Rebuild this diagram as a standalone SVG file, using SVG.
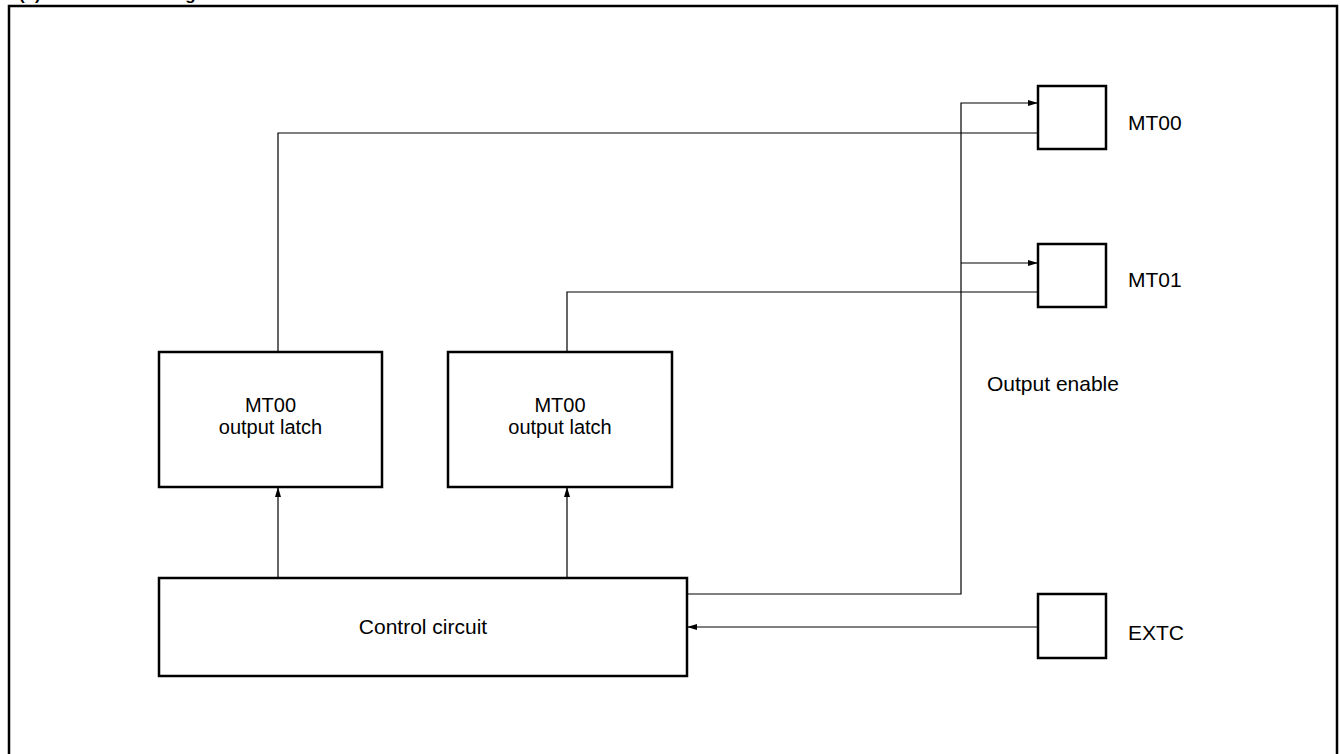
<svg xmlns="http://www.w3.org/2000/svg" width="1340" height="754" viewBox="0 0 1340 754">
<style>
.box{fill:#fff;stroke:#000;stroke-width:2.5}
.ln{fill:none;stroke:#000;stroke-width:1.2}
.t{font-family:"Liberation Sans",Arial,sans-serif;font-size:21px;fill:#000}
.s{font-size:20px}
.h{font-family:"Liberation Sans",Arial,sans-serif;font-size:17px;font-weight:bold;fill:#000}
</style>
<defs>
<marker id="ar" viewBox="0 0 10 6" refX="10" refY="3" markerWidth="10" markerHeight="6" markerUnits="userSpaceOnUse" orient="auto">
<path d="M0,0 L10,3 L0,6 Z" fill="#000"/>
</marker>
</defs>
<rect x="0" y="0" width="1340" height="754" fill="#fff"/>
<text class="h" x="19" y="0">(b) Internal block diagram</text>
<rect x="9" y="6" width="1328" height="760" fill="none" stroke="#000" stroke-width="2.5"/>
<g id="connectors">
<path class="ln" d="M278,352 V133 H1038"/>
<path class="ln" d="M567,352 V292 H1038"/>
<path class="ln" d="M687,594 H961 V103 H1038" marker-end="url(#ar)"/>
<path class="ln" d="M961,263 H1038" marker-end="url(#ar)"/>
<path class="ln" d="M1038,627 H687" marker-end="url(#ar)"/>
<path class="ln" d="M278,578 V487" marker-end="url(#ar)"/>
<path class="ln" d="M567,578 V487" marker-end="url(#ar)"/>
</g>
<g id="latch1">
<rect class="box" x="159" y="352" width="223" height="135"/>
<text class="t s" x="270.5" y="412" text-anchor="middle">MT00</text>
<text class="t s" x="270.5" y="434" text-anchor="middle">output latch</text>
</g>
<g id="latch2">
<rect class="box" x="448" y="352" width="224" height="135"/>
<text class="t s" x="560" y="412" text-anchor="middle">MT00</text>
<text class="t s" x="560" y="434" text-anchor="middle">output latch</text>
</g>
<g id="control">
<rect class="box" x="159" y="578" width="528" height="98"/>
<text class="t" x="423" y="634" text-anchor="middle">Control circuit</text>
</g>
<g id="mt00">
<rect class="box" x="1038" y="86" width="68" height="63"/>
<text class="t" x="1128" y="130">MT00</text>
</g>
<g id="mt01">
<rect class="box" x="1038" y="244" width="68" height="63"/>
<text class="t" x="1128" y="287">MT01</text>
</g>
<g id="extc">
<rect class="box" x="1038" y="594" width="68" height="64"/>
<text class="t" x="1128" y="640">EXTC</text>
</g>
<g id="oe">
<text class="t" x="987" y="391">Output enable</text>
</g>
</svg>
